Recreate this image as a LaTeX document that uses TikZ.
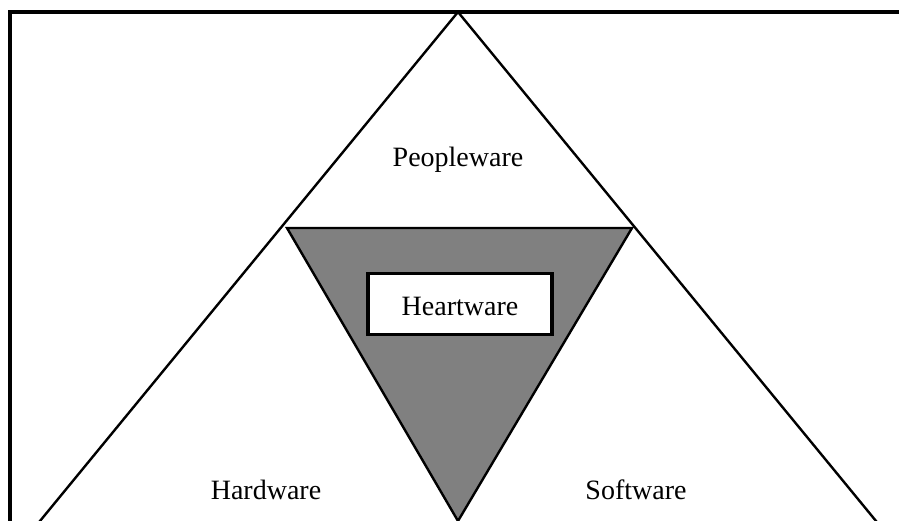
\documentclass[tikz,border=0pt]{standalone}
\usepackage{fontspec}
\setmainfont{Liberation Serif}
\usetikzlibrary{calc}
\begin{document}
\begin{tikzpicture}[x=1pt,y=-1pt,
  lbl/.style={font=\fontsize{28}{33}\selectfont, inner sep=0pt},
  thin line/.style={line width=2.4pt, black},
  heavy/.style={line width=3.6pt, black}]
\useasboundingbox (0,0) rectangle (899,521);
\begin{scope}
\clip (0,0) rectangle (899,521);
\draw[heavy] (10,12) rectangle (910,540);
\coordinate (apex) at (458,12);
\coordinate (bl) at (40,521);
\coordinate (br) at (876,521);
\coordinate (il) at (287,228);
\coordinate (ir) at (632,228);
\coordinate (ib) at (458,521);
\draw[thin line] ($(bl)!-0.02!(apex)$) -- (apex) -- ($(br)!-0.02!(apex)$);
\filldraw[thin line, fill={rgb,255:red,128;green,128;blue,128}, line join=miter] (il) -- (ir) -- (ib) -- cycle;
\node[heavy, draw, fill=white, minimum width=184pt, minimum height=61pt, inner sep=0pt] (heart) at (460,304) {};
\end{scope}
\node[lbl] (hearttext) at (460,306) {Heartware};
\node[lbl] (people) at (458,160) {Peopleware};
\node[lbl] (hard) at (266,490) {Hardware};
\node[lbl] (soft) at (636,490) {Software};
\end{tikzpicture}
\end{document}
